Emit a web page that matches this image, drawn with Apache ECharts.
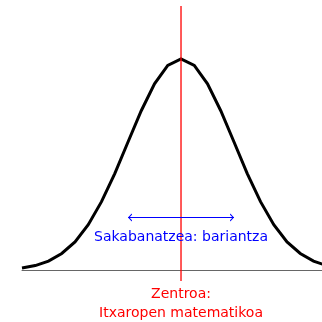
<!DOCTYPE html>
<html><head><meta charset="utf-8">
<script src="https://cdn.jsdelivr.net/npm/echarts@6/dist/echarts.min.js"></script>
<style>html,body{margin:0;padding:0;background:#fff}#c{width:322px;height:322px}</style>
</head><body><div id="c"></div>
<script>
// x positions in units of standard deviation
const xs = [-3, -2.75, -2.5, -2.25, -2, -1.75, -1.5, -1.25, -1, -0.75, -0.5, -0.25, 0, 0.25, 0.5, 0.75, 1, 1.25, 1.5, 1.75, 2, 2.25, 2.5, 2.75, 3];
const ys = [0.011, 0.023, 0.044, 0.08, 0.135, 0.216, 0.325, 0.458, 0.607, 0.755, 0.882, 0.969, 1.0, 0.969, 0.882, 0.755, 0.607, 0.458, 0.325, 0.216, 0.135, 0.08, 0.044, 0.023, 0.011];
const centerX = 0;
const spreadFrom = -1, spreadTo = 1, spreadY = 0.25;
const spreadLabel = 'Sakabanatzea: bariantza';
const centerLabel = 'Zentroa:\nItxaropen matematikoa';

// open chevron with its tip at the symbol centre (second sub-path only extends the bounds)
const chev = 'path://M0,10 L5,0 L10,10 L8.4,10.9 L5,3.8 L1.6,10.9 Z M5,-10.9 L5.01,-10.9 L5,-10.89 Z';
const chart = echarts.init(document.getElementById('c'), null, {renderer: 'canvas'});
const font = '"DejaVu Sans", sans-serif';
chart.setOption({
  animation: false,
  grid: {left: 22, right: 0, top: 6, bottom: 41},
  xAxis: {type: 'value', min: -3, max: 2.66, axisLine: {show: true, onZero: true, lineStyle: {color: '#666', width: 1}},
    axisTick: {show: false}, axisLabel: {show: false}, splitLine: {show: false}},
  yAxis: {type: 'value', min: -0.05, max: 1.25, show: false},
  series: [{
    type: 'line',
    data: xs.map((x, i) => [x, ys[i]]),
    showSymbol: false,
    lineStyle: {color: '#000', width: 3, join: 'miter'},
    clip: true,
    z: 3,
    markPoint: {
      silent: true,
      symbol: 'circle',
      symbolSize: 0,
      data: [
        {coord: [centerX, spreadY], label: {show: true, position: 'inside', formatter: spreadLabel, color: '#0000ff', fontSize: 14, fontFamily: font, offset: [0, 20]}},
        {coord: [centerX, -0.05], label: {show: true, position: 'inside', formatter: centerLabel, color: '#ff0000', fontSize: 14, fontFamily: font, lineHeight: 19, offset: [0, 23]}}
      ]
    }
  }, {
    type: 'line',
    data: [[centerX, -0.05], [centerX, 1.25]],
    showSymbol: false,
    color: '#ff0000',
    lineStyle: {color: '#ff0000', width: 1.3, type: 'solid'},
    z: 4
  }, {
    type: 'line',
    data: [[spreadFrom, spreadY], [spreadTo, spreadY]],
    showSymbol: false,
    lineStyle: {opacity: 0},
    z: 4,
    markLine: {
      silent: true,
      animation: false,
      symbol: [chev, chev],
      symbolSize: [8, 8],
      lineStyle: {color: '#0000ff', width: 1.2, type: 'solid'},
      itemStyle: {color: '#0000ff'},
      label: {show: false},
      data: [[{coord: [spreadFrom, spreadY]}, {coord: [spreadTo, spreadY]}]]
    }
  }]
});
</script></body></html>
